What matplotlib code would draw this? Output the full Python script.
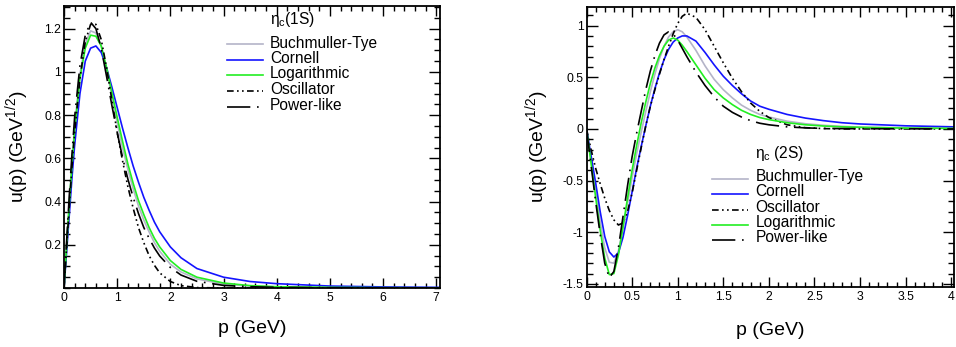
import numpy as np
import matplotlib

matplotlib.use("Agg")
import matplotlib.pyplot as plt
from matplotlib.ticker import FixedLocator, MultipleLocator, FormatStrFormatter

plt.rcParams["font.family"] = ["Liberation Sans", "DejaVu Sans"]
plt.rcParams["mathtext.fontset"] = "custom"
plt.rcParams["mathtext.rm"] = "Liberation Sans"
plt.rcParams["mathtext.it"] = "Liberation Sans"
plt.rcParams["axes.unicode_minus"] = False

# -------------------------------------------------------------------
# READ-OFF VALUES: eta_c(1S) momentum-space wave functions
p_1s = [0, 0.05, 0.1, 0.15, 0.2, 0.3, 0.4, 0.5, 0.6, 0.7, 0.8, 0.9, 1.0,
        1.1, 1.2, 1.3, 1.4, 1.5, 1.6, 1.7, 1.8, 2.0, 2.2, 2.5, 3.0, 3.5,
        4.0, 5.0, 6.0, 7.07]
bt_1s = [0, 0.20, 0.40, 0.58, 0.75, 0.99, 1.13, 1.19, 1.18, 1.12, 1.01,
         0.89, 0.765, 0.65, 0.55, 0.46, 0.38, 0.315, 0.26, 0.21, 0.17,
         0.11, 0.074, 0.042, 0.018, 0.009, 0.005, 0.002, 0.001, 0.0005]
cornell_1s = [0, 0.17, 0.34, 0.51, 0.66, 0.90, 1.05, 1.11, 1.12, 1.09,
              1.02, 0.93, 0.835, 0.74, 0.65, 0.565, 0.49, 0.42, 0.36,
              0.305, 0.26, 0.19, 0.14, 0.09, 0.05, 0.03, 0.02, 0.009,
              0.005, 0.003]
log_1s = [0, 0.20, 0.39, 0.57, 0.73, 0.97, 1.11, 1.17, 1.165, 1.12, 1.02,
          0.905, 0.79, 0.68, 0.575, 0.485, 0.405, 0.34, 0.28, 0.23, 0.19,
          0.127, 0.086, 0.05, 0.023, 0.011, 0.006, 0.003, 0.0015, 0.001]
osc_1s = [0, 0.19, 0.38, 0.56, 0.72, 0.97, 1.14, 1.22, 1.22, 1.15, 1.02,
          0.87, 0.72, 0.59, 0.47, 0.37, 0.28, 0.21, 0.15, 0.105, 0.07,
          0.03, 0.011, 0.002, 0, 0, 0, 0, 0, 0]
power_1s = [0, 0.22, 0.43, 0.62, 0.79, 1.03, 1.17, 1.23, 1.20, 1.11, 0.98,
            0.845, 0.72, 0.605, 0.505, 0.42, 0.345, 0.28, 0.23, 0.185,
            0.148, 0.095, 0.06, 0.031, 0.012, 0.006, 0.003, 0.001, 0, 0]

# READ-OFF VALUES: eta_c(2S)
p_2s = [0, 0.05, 0.1, 0.15, 0.2, 0.25, 0.3, 0.35, 0.4, 0.45, 0.5, 0.55,
        0.6, 0.65, 0.7, 0.75, 0.8, 0.85, 0.9, 0.95, 1.0, 1.05, 1.1, 1.2,
        1.3, 1.4, 1.5, 1.6, 1.7, 1.8, 1.9, 2.0, 2.2, 2.4, 2.6, 2.8, 3.0,
        3.5, 4.03]
bt_2s = [0, -0.30, -0.60, -0.90, -1.15, -1.29, -1.30, -1.18, -0.96, -0.72,
         -0.47, -0.24, -0.03, 0.17, 0.36, 0.53, 0.68, 0.80, 0.89, 0.94,
         0.96, 0.94, 0.89, 0.76, 0.61, 0.48, 0.38, 0.30, 0.23, 0.18, 0.14,
         0.115, 0.075, 0.05, 0.035, 0.025, 0.018, 0.01, 0.006]
cornell_2s = [0, -0.26, -0.52, -0.80, -1.04, -1.19, -1.24, -1.20, -1.05,
              -0.84, -0.61, -0.38, -0.17, 0.03, 0.22, 0.39, 0.54, 0.67,
              0.77, 0.84, 0.88, 0.90, 0.90, 0.85, 0.74, 0.62, 0.51, 0.42,
              0.34, 0.27, 0.22, 0.19, 0.14, 0.105, 0.08, 0.06, 0.048,
              0.03, 0.02]
osc_2s = [0, -0.20, -0.38, -0.53, -0.67, -0.79, -0.88, -0.93, -0.91, -0.80,
          -0.62, -0.40, -0.18, 0.03, 0.22, 0.38, 0.53, 0.67, 0.80, 0.92,
          1.02, 1.09, 1.12, 1.08, 0.96, 0.80, 0.64, 0.49, 0.36, 0.25, 0.17,
          0.11, 0.04, 0.012, 0.003, 0, 0, 0, 0]
log_2s = [0, -0.33, -0.66, -0.98, -1.25, -1.41, -1.40, -1.22, -0.95, -0.67,
          -0.40, -0.16, 0.06, 0.26, 0.44, 0.59, 0.71, 0.80, 0.86, 0.88,
          0.86, 0.81, 0.75, 0.62, 0.49, 0.38, 0.30, 0.235, 0.18, 0.14, 0.11,
          0.09, 0.06, 0.04, 0.028, 0.02, 0.015, 0.008, 0.005]
power_2s = [0, -0.35, -0.70, -1.02, -1.30, -1.44, -1.38, -1.15, -0.85,
            -0.55, -0.27, -0.04, 0.17, 0.38, 0.56, 0.71, 0.83, 0.91, 0.94,
            0.92, 0.86, 0.78, 0.70, 0.55, 0.42, 0.31, 0.22, 0.16, 0.115,
            0.08, 0.055, 0.04, 0.02, 0.01, 0.005, 0.003, 0.002, 0.001, 0]

# -------------------------------------------------------------------
# LINE STYLES (ROOT-like)
GREY = "#b4b4c8"
BLUE = "#1414ff"
GREEN = "#22ee22"
LW = 1.2
styles = {
    "Buchmuller-Tye": dict(color=GREY, lw=LW, ls="-"),
    "Cornell": dict(color=BLUE, lw=LW, ls="-"),
    "Logarithmic": dict(color=GREEN, lw=LW, ls="-"),
    "Oscillator": dict(color="black", lw=LW, ls=(0, (4, 2, 1, 2, 1, 2))),
    "Power-like": dict(color="black", lw=LW, ls=(0, (14, 4, 1, 4))),
}


# DRAW A ROOT-STYLE LEGEND (header + entries, no frame)
def root_legend(ax, title, names, hx, tx, ytitle, ybase, dyline):
    ax.text(tx, ytitle, title, transform=ax.transAxes, fontsize=11.2,
            va="baseline", ha="left")
    for name, yb in zip(names, ybase):
        st = styles[name]
        ax.plot(hx, [yb + dyline, yb + dyline], transform=ax.transAxes,
                color=st["color"], lw=st["lw"], ls=st["ls"], clip_on=False)
        ax.text(tx, yb, name, transform=ax.transAxes, fontsize=11.2,
                va="baseline", ha="left")


# FRAME, TICKS, LABELS
def frame(ax):
    for s in ax.spines.values():
        s.set_linewidth(1.3)
    ax.tick_params(which="both", direction="in", top=True, right=True,
                   labelsize=8.8, width=1.0)
    ax.tick_params(axis="y", which="major", length=8, pad=2)
    ax.tick_params(axis="y", which="minor", length=4)
    ax.tick_params(axis="x", which="major", length=7, pad=3)
    ax.tick_params(axis="x", which="minor", length=3.5)
    ax.set_xlabel("p (GeV)", fontsize=14)
    ax.set_ylabel("u(p) (GeV$^{1/2}$)", fontsize=14)


fig = plt.figure(figsize=(9.56, 3.47), dpi=100)

# LEFT PANEL: 1S
ax1 = fig.add_axes([64 / 956, 1 - 288 / 347, 376 / 956, 282 / 347])
ax1.plot(p_1s, bt_1s, **styles["Buchmuller-Tye"])
ax1.plot(p_1s, cornell_1s, **styles["Cornell"])
ax1.plot(p_1s, log_1s, **styles["Logarithmic"])
ax1.plot(p_1s, osc_1s, **styles["Oscillator"])
ax1.plot(p_1s, power_1s, **styles["Power-like"])
ax1.set_xlim(0, 7.07)
ax1.set_ylim(0, 1.305)
ax1.xaxis.set_major_locator(MultipleLocator(1))
ax1.xaxis.set_minor_locator(MultipleLocator(0.2))
ax1.yaxis.set_major_locator(FixedLocator([0.2, 0.4, 0.6, 0.8, 1.0, 1.2]))
ax1.yaxis.set_minor_locator(MultipleLocator(0.05))
ax1.xaxis.set_major_formatter(FormatStrFormatter("%g"))
ax1.yaxis.set_major_formatter(FormatStrFormatter("%g"))
frame(ax1)
ax1.xaxis.set_label_coords(0.5, -0.113)
ax1.xaxis.label.set_va("top")
ax1.yaxis.set_label_coords(-0.088, 0.5)
root_legend(ax1, r"$\eta_c$(1S)",
            ["Buchmuller-Tye", "Cornell", "Logarithmic", "Oscillator",
             "Power-like"],
            [0.4335, 0.5293], 0.548, (288 - 24) / 282,
            [(288 - y) / 282 for y in [47.7, 62.9, 78.4, 94.1, 109.8]],
            3.2 / 282)

# RIGHT PANEL: 2S
ax2 = fig.add_axes([586.5 / 956, 1 - 287 / 347, 367.5 / 956, 280 / 347])
ax2.plot(p_2s, bt_2s, **styles["Buchmuller-Tye"])
ax2.plot(p_2s, cornell_2s, **styles["Cornell"])
ax2.plot(p_2s, osc_2s, **styles["Oscillator"])
ax2.plot(p_2s, log_2s, **styles["Logarithmic"])
ax2.plot(p_2s, power_2s, **styles["Power-like"])
ax2.set_xlim(0, 4.03)
ax2.set_ylim(-1.53, 1.18)
ax2.xaxis.set_major_locator(MultipleLocator(0.5))
ax2.xaxis.set_minor_locator(MultipleLocator(0.1))
ax2.yaxis.set_major_locator(MultipleLocator(0.5))
ax2.yaxis.set_minor_locator(MultipleLocator(0.1))
ax2.xaxis.set_major_formatter(FormatStrFormatter("%g"))
ax2.yaxis.set_major_formatter(FormatStrFormatter("%g"))
frame(ax2)
ax2.xaxis.set_label_coords(0.5, -0.124)
ax2.xaxis.label.set_va("top")
ax2.yaxis.set_label_coords(-0.097, 0.5)
root_legend(ax2, r"$\eta_c$ (2S)",
            ["Buchmuller-Tye", "Cornell", "Oscillator", "Logarithmic",
             "Power-like"],
            [0.3415, 0.4386], 0.4594, (287 - 158.5) / 280,
            [(287 - y) / 280 for y in [180.7, 196.2, 211.7, 227.0, 242.3]],
            2.0 / 280)

fig.savefig("out.png", dpi=100)
